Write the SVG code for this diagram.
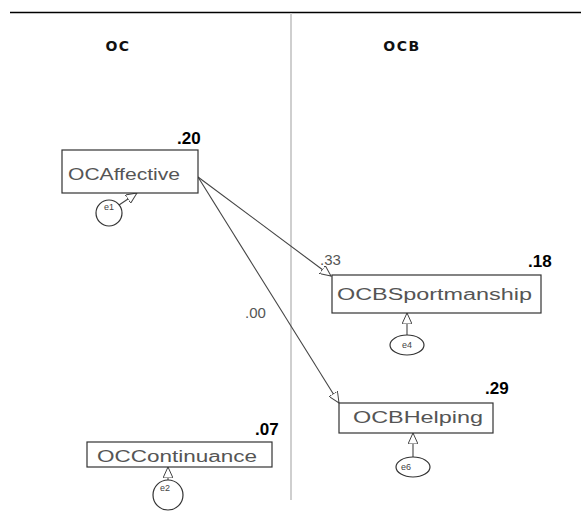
<svg xmlns="http://www.w3.org/2000/svg" width="581" height="511" viewBox="0 0 581 511">
<style>
.box{fill:#fff;stroke:#333;stroke-width:1.2}
.lbl{font-family:"Liberation Sans",Arial,sans-serif;font-size:16px;fill:#555}
.num{font-family:"Liberation Sans",Arial,sans-serif;font-size:17px;font-weight:bold;fill:#000}
.coef{font-family:"Liberation Sans",Arial,sans-serif;font-size:15px;fill:#555}
.err{fill:#fff;stroke:#333;stroke-width:1.2}
.elbl{font-family:"Liberation Sans",Arial,sans-serif;font-size:9px;fill:#444}
.hdr{font-family:"DejaVu Sans",sans-serif;font-size:14px;font-weight:bold;fill:#111;letter-spacing:1.5px}
.con{stroke:#444;stroke-width:1.1;fill:none;marker-end:url(#ah)}
</style>
<defs>
<marker id="ah" viewBox="0 0 12 10" refX="11" refY="5" markerWidth="12" markerHeight="10" markerUnits="userSpaceOnUse" orient="auto">
<path d="M0,0 L11,5 L0,10 Z" fill="#fff" stroke="#444" stroke-width="1"/>
</marker>
</defs>
<rect width="581" height="511" fill="#fff"/>
<line x1="10" y1="12.5" x2="581" y2="12.5" stroke="#000" stroke-width="1.3"/>
<line x1="291" y1="13" x2="291" y2="500" stroke="#cfcfcf" stroke-width="2"/>
<text class="hdr" x="118" y="51" text-anchor="middle">OC</text>
<text class="hdr" x="402" y="51" text-anchor="middle">OCB</text>
<g id="connectors">
<line class="con" x1="198" y1="177" x2="331" y2="276"/>
<line class="con" x1="198" y1="177" x2="339" y2="403"/>
<line class="con" x1="119" y1="205" x2="137" y2="193"/>
<line class="con" x1="407" y1="335" x2="407" y2="313"/>
<line class="con" x1="413" y1="457" x2="413" y2="433"/>
<line class="con" x1="168" y1="480" x2="168" y2="467"/>
<text class="coef" x="320" y="265">.33</text>
<text class="coef" x="245" y="318">.00</text>
</g>
<g id="OCAffective">
<rect class="box" x="62" y="150" width="136" height="43"/>
<text class="lbl" x="68" y="180" textLength="112" lengthAdjust="spacingAndGlyphs">OCAffective</text>
<text class="num" x="177" y="144">.20</text>
</g>
<g id="e1">
<circle class="err" cx="109" cy="213" r="13"/>
<text class="elbl" x="109" y="210" text-anchor="middle">e1</text>
</g>
<g id="OCBSportmanship">
<rect class="box" x="332" y="275" width="209" height="38"/>
<text class="lbl" x="337" y="300" textLength="195" lengthAdjust="spacingAndGlyphs">OCBSportmanship</text>
<text class="num" x="528" y="267">.18</text>
</g>
<g id="e4">
<ellipse class="err" cx="407" cy="345" rx="17" ry="10"/>
<text class="elbl" x="407" y="348" text-anchor="middle">e4</text>
</g>
<g id="OCBHelping">
<rect class="box" x="339" y="403" width="154" height="30"/>
<text class="lbl" x="353" y="423" textLength="130" lengthAdjust="spacingAndGlyphs">OCBHelping</text>
<text class="num" x="485" y="394">.29</text>
</g>
<g id="e6">
<ellipse class="err" cx="413" cy="467" rx="17" ry="10"/>
<text class="elbl" x="406" y="470" text-anchor="middle">e6</text>
</g>
<g id="OCContinuance">
<rect class="box" x="87" y="442" width="185" height="25"/>
<text class="lbl" x="97" y="462" textLength="160" lengthAdjust="spacingAndGlyphs">OCContinuance</text>
<text class="num" x="255" y="435">.07</text>
</g>
<g id="e2">
<circle class="err" cx="168" cy="495" r="15"/>
<text class="elbl" x="165" y="491" text-anchor="middle">e2</text>
</g>
</svg>
